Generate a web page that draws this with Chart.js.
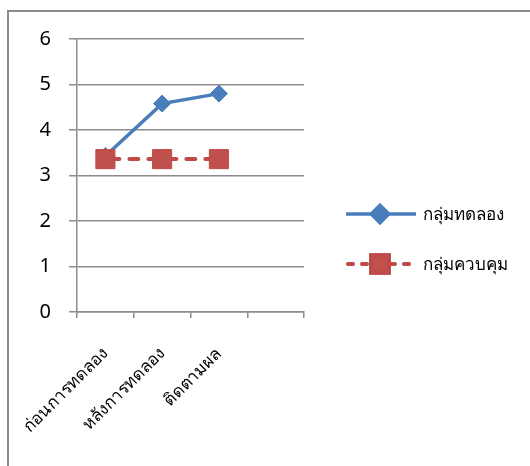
<!DOCTYPE html>
<html>
<head>
<meta charset="utf-8">
<script src="https://cdn.jsdelivr.net/npm/chart.js@4.4.1/dist/chart.umd.min.js"></script>
<style>
  html, body { margin: 0; padding: 0; background: #fff; }
  #wrap { position: relative; width: 530px; height: 466px; }
</style>
</head>
<body>
<div id="wrap"><canvas id="c" width="530" height="466"></canvas></div>
<script>
// Categories along the x axis (last slot is left empty)
const categories = ['ก่อนการทดลอง', 'หลังการทดลอง', 'ติดตามผล', ''];
// Mean scores per phase
const experimentalGroup = [3.43, 4.58, 4.8, null];
const controlGroup = [3.36, 3.36, 3.36, null];
const seriesNames = ['กลุ่มทดลอง', 'กลุ่มควบคุม'];
const yTicks = [0, 1, 2, 3, 4, 5, 6];

const FONT = 'Tahoma, "Leelawadee UI", "Noto Sans", "DejaVu Sans", sans-serif';
const BLUE = '#4a7ebb';
const RED = '#be4b48';
const GRID = '#8c8c8c';

// Outer frame of the chart
const framePlugin = {
  id: 'frame',
  beforeDraw(chart) {
    const ctx = chart.ctx;
    ctx.save();
    ctx.fillStyle = '#fff';
    ctx.fillRect(0, 0, chart.width, chart.height);
    ctx.strokeStyle = '#8a8a8a';
    ctx.lineWidth = 2;
    ctx.strokeRect(8, 11, 700, 700);
    ctx.restore();
  }
};

// Legend drawn at the right: line sample with a marker in the middle
const legendPlugin = {
  id: 'sideLegend',
  afterDraw(chart) {
    const ctx = chart.ctx;
    const rows = [
      { ds: chart.data.datasets[0], y: 214 },
      { ds: chart.data.datasets[1], y: 264 }
    ];
    ctx.save();
    rows.forEach(r => {
      const ds = r.ds;
      ctx.strokeStyle = ds.borderColor;
      ctx.lineWidth = ds.borderWidth;
      ctx.lineCap = ds.borderCapStyle || 'butt';
      ctx.setLineDash(ds.borderDash ? [5, 9] : []);
      ctx.beginPath();
      ctx.moveTo(ds.borderDash ? 348 : 346, r.y);
      ctx.lineTo(ds.borderDash ? 414 : 416, r.y);
      ctx.stroke();
      ctx.setLineDash([]);
      Chart.helpers.drawPoint(ctx, {
        pointStyle: ds.pointStyle,
        radius: ds.pointStyle === 'rect' ? 12.5 : ds.pointRadius,
        borderWidth: ds.pointBorderWidth
      }, 380, r.y);
      ctx.fillStyle = ds.pointBackgroundColor;
      ctx.strokeStyle = ds.pointBorderColor;
      ctx.fill();
      ctx.stroke();
      ctx.fillStyle = '#000';
      ctx.font = '17px ' + FONT;
      ctx.textBaseline = 'middle';
      ctx.textAlign = 'left';
      ctx.fillText(ds.label, 423, r.y + 1);
    });
    ctx.restore();
  }
};

new Chart(document.getElementById('c'), {
  type: 'line',
  data: {
    labels: categories,
    datasets: [
      {
        label: seriesNames[0],
        data: experimentalGroup,
        borderColor: BLUE,
        borderWidth: 3.5,
        pointStyle: 'rectRot',
        pointRadius: 8.5,
        pointBackgroundColor: BLUE,
        pointBorderColor: BLUE,
        pointBorderWidth: 1,
        tension: 0,
        order: 2
      },
      {
        label: seriesNames[1],
        data: controlGroup,
        borderColor: RED,
        borderWidth: 4,
        borderDash: [9, 10],
        borderDashOffset: -5,
        borderCapStyle: 'round',
        pointStyle: 'rect',
        pointRadius: 13.5,
        pointBackgroundColor: '#c0504d',
        pointBorderColor: RED,
        pointBorderWidth: 1,
        tension: 0,
        order: 1
      }
    ]
  },
  options: {
    responsive: false,
    animation: false,
    devicePixelRatio: 1,
    layout: { padding: { left: 0, top: 39, right: 226, bottom: 0 } },
    plugins: {
      legend: { display: false },
      tooltip: { enabled: false }
    },
    scales: {
      x: {
        offset: true,
        border: { display: true, color: GRID, width: 1.5 },
        grid: {
          offset: true,
          drawOnChartArea: false,
          drawTicks: true,
          tickLength: 6,
          color: GRID,
          lineWidth: 1.5
        },
        ticks: {
          autoSkip: false,
          maxRotation: 45,
          minRotation: 45,
          padding: 26,
          color: '#000',
          font: { family: FONT, size: 17 }
        },
        afterFit(scale) {
          scale.height = 154;
          scale.paddingLeft = 0;
          scale.paddingRight = 0;
        }
      },
      y: {
        min: 0,
        max: 6,
        afterBuildTicks(scale) { scale.ticks = yTicks.map(v => ({ value: v })); },
        border: { display: true, color: GRID, width: 1.5 },
        grid: {
          color: GRID,
          lineWidth: 1.5,
          tickLength: 8
        },
        ticks: {
          padding: 18,
          color: '#000',
          font: { family: FONT, size: 20 }
        },
        afterFit(scale) {
          scale.width = 77;
          scale.paddingTop = 0;
          scale.paddingBottom = 0;
        }
      }
    }
  },
  plugins: [framePlugin, legendPlugin]
});
</script>
</body>
</html>
